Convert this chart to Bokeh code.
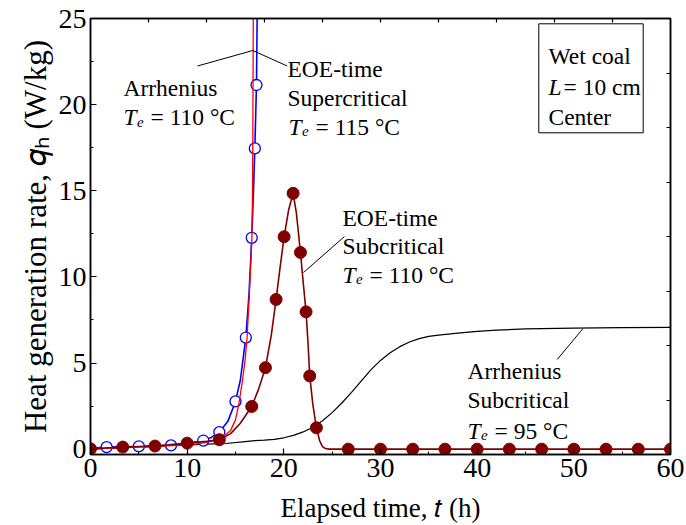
from bokeh.embed import file_html
from bokeh.models import (BoxAnnotation, CustomJSTickFormatter, FixedTicker,
                          Label, LinearAxis, Range1d)
from bokeh.plotting import figure
from bokeh.resources import INLINE

# ---- data: heat generation rate q_h (W/kg) vs elapsed time t (h) ----

# Arrhenius, subcritical, Te = 95 C (black curve)
arr95_t = [0, 2, 5, 8, 10, 12, 14, 16, 17, 18, 19, 20, 21, 22, 23, 24, 25, 26,
           27, 28, 29, 30, 31, 32, 33, 34, 35, 36, 37, 38, 40, 42, 45, 50, 55, 60]
arr95_q = [0.0, 0.05, 0.12, 0.2, 0.25, 0.29, 0.33, 0.44, 0.49, 0.52, 0.57, 0.66,
           0.8, 1.0, 1.27, 1.65, 2.12, 2.68, 3.3, 3.95, 4.6, 5.15, 5.6, 5.95,
           6.22, 6.42, 6.55, 6.62, 6.68, 6.74, 6.84, 6.91, 6.98, 7.03, 7.06, 7.07]

# Arrhenius, Te = 110 C (red curve)
arr110_t = [0, 2, 4, 6, 8, 10, 11, 12, 13, 13.5, 14, 14.5, 15, 15.35, 15.7, 16.0,
            16.2, 16.45, 16.7, 16.76, 16.8, 16.84]
arr110_q = [0.02, 0.06, 0.1, 0.14, 0.19, 0.26, 0.31, 0.4, 0.55, 0.68, 0.85, 1.09,
            1.7, 2.64, 3.9, 5.2, 6.5, 9.2, 12.3, 15.0, 19.0, 25.5]

# EOE-time, supercritical, Te = 115 C (blue curve and open circles)
eoe115_t = [0, 1.67, 5.0, 8.33, 10, 11.67, 12.5, 13.33, 14.2, 15.0, 15.5, 16.07,
            16.4, 16.68, 16.85, 17.0, 17.17, 17.25]
eoe115_q = [0.05, 0.12, 0.16, 0.22, 0.33, 0.5, 0.68, 0.99, 1.6, 2.77, 4.0, 6.48,
            9.0, 12.27, 14.8, 17.46, 21.14, 25.5]
eoe115_mark_t = [1.67, 5.0, 8.33, 11.67, 13.33, 15.0, 16.07, 16.68, 17.0, 17.17]
eoe115_mark_q = [0.12, 0.16, 0.22, 0.5, 0.99, 2.77, 6.48, 12.27, 17.46, 21.14]

# EOE-time, subcritical, Te = 110 C (dark red curve and filled circles)
eoe110_t = [0, 3.33, 6.67, 10, 12, 13.33, 14.5, 15.5, 16.68, 17.4, 18.1, 18.7,
            19.2, 19.6, 20.03, 20.5, 20.96, 21.3, 21.72, 22.0, 22.3, 22.5, 22.68,
            23.0, 23.37, 23.7, 24.0, 24.3, 24.7, 60]
eoe110_q = [0.02, 0.12, 0.18, 0.35, 0.45, 0.55, 0.9, 1.5, 2.48, 3.5, 4.73, 6.6,
            8.69, 10.5, 12.33, 13.9, 14.85, 13.7, 11.42, 9.7, 7.97, 6.2, 4.25,
            2.6, 1.24, 0.5, 0.15, 0.04, 0.0, 0.0]
eoe110_mark_t = [0, 3.33, 6.67, 10, 13.33, 16.68, 18.1, 19.2, 20.03, 20.96, 21.72,
                 22.3, 22.68, 23.37, 26.67, 30, 33.33, 36.67, 40, 43.33, 46.67,
                 50, 53.33, 56.67, 60]
eoe110_mark_q = [0.02, 0.12, 0.18, 0.35, 0.55, 2.48, 4.73, 8.69, 12.33, 14.85,
                 11.42, 7.97, 4.25, 1.24, 0, 0, 0, 0, 0, 0, 0, 0, 0, 0, 0]

# axis ticks
x_major = [0, 10, 20, 30, 40, 50, 60]
x_minor = [5, 15, 25, 35, 45, 55]
y_major = [0, 5, 10, 15, 20, 25]
y_minor = [2.5, 7.5, 12.5, 17.5, 22.5]
top_ticks = [6, 12, 18, 24, 30, 36, 42, 48, 54]
right_ticks = [2.85, 6.01, 9.18, 12.34, 15.5, 18.67, 21.83]

# axis titles (mathematical italic t and q, subscript h)
x_title = "Elapsed time, \U0001D461 (h)"
y_title = "Heat generation rate, \U0001D45E\u2095 (W/kg)"

# ---- layout (pixels) ----
W, H = 686, 525
B_LEFT, B_RIGHT, B_TOP, B_BOTTOM = 90, 16, 18, 71
X0, X1 = 0, 60
Y0, Y1 = -0.31, 25
SX = (W - B_LEFT - B_RIGHT) / (X1 - X0)
SY = (H - B_TOP - B_BOTTOM) / (Y1 - Y0)


def at(px, py):
    """Page pixel position -> data coordinates."""
    return X0 + (px - B_LEFT) / SX, Y1 - (py - B_TOP) / SY


FONT = "Liberation Serif"
ANN = "23.5px"

p = figure(width=W, height=H, x_range=Range1d(X0, X1), y_range=Range1d(Y0, Y1),
           min_border_left=B_LEFT, min_border_right=B_RIGHT,
           min_border_top=B_TOP, min_border_bottom=B_BOTTOM,
           output_backend="svg", toolbar_location=None)
p.grid.visible = False
p.background_fill_color = "white"
p.border_fill_color = "white"
p.outline_line_color = "black"
p.outline_line_width = 1.5


def style_axis(ax, labels=True, major_in=6, minor_in=3):
    ax.axis_line_color = "black"
    ax.axis_line_width = 1.5
    ax.major_tick_in = major_in
    ax.major_tick_out = 0
    ax.minor_tick_in = minor_in
    ax.minor_tick_out = 0
    ax.major_tick_line_width = 1.2
    ax.minor_tick_line_width = 1.0
    ax.major_tick_line_color = "black"
    ax.minor_tick_line_color = "black"
    if labels:
        ax.major_label_text_font = FONT
        ax.major_label_text_font_size = "28px"
        ax.major_label_text_color = "black"
        ax.major_label_standoff = 4
        ax.axis_label_text_font = FONT
        ax.axis_label_text_font_style = "normal"
        ax.axis_label_text_color = "black"
    else:
        ax.formatter = CustomJSTickFormatter(code="return ''")
        ax.major_label_text_font_size = "1px"
        ax.major_label_standoff = 0


xa = p.xaxis[0]
xa.ticker = FixedTicker(ticks=x_major, minor_ticks=x_minor)
style_axis(xa)
xa.axis_label = x_title
xa.axis_label_text_font_size = "27px"
xa.axis_label_standoff = 13

ya = p.yaxis[0]
ya.ticker = FixedTicker(ticks=y_major, minor_ticks=y_minor)
style_axis(ya)
ya.axis_label = y_title
ya.axis_label_text_font_size = "31px"
ya.axis_label_standoff = 3

top_ax = LinearAxis(ticker=FixedTicker(ticks=top_ticks))
style_axis(top_ax, labels=False, major_in=4)
p.add_layout(top_ax, "above")
right_ax = LinearAxis(ticker=FixedTicker(ticks=right_ticks))
style_axis(right_ax, labels=False, major_in=4)
p.add_layout(right_ax, "right")

# ---- curves ----
p.line(arr95_t, arr95_q, line_color="black", line_width=1.2)
p.line(eoe115_t, eoe115_q, line_color="#0000ff", line_width=1.6)
p.scatter(eoe115_mark_t, eoe115_mark_q, marker="circle", size=11,
          line_color="#0000ff", line_width=1.3, fill_color="white")
p.line(arr110_t, arr110_q, line_color="#ff0000", line_width=1.3)
p.line(eoe110_t, eoe110_q, line_color="#800000", line_width=1.6)
p.scatter(eoe110_mark_t, eoe110_mark_q, marker="circle", size=12,
          line_color="#800000", fill_color="#800000")

# ---- leader lines from the labels to their curves ----
leaders = [
    [(197, 65.5), (252.3, 50), (286.7, 65.5)],
    [(303, 272), (344, 236)],
    [(556.7, 359), (582.3, 328.3)],
]
for pts in leaders:
    xy = [at(*q) for q in pts]
    p.line([a for a, _ in xy], [b for _, b in xy], line_color="black", line_width=1.0)


# ---- curve labels ----
def text(px, py, s, size=ANN, style="normal"):
    x, y = at(px, py)
    p.add_layout(Label(x=x, y=y, text=s, text_font=FONT, text_font_size=size,
                       text_font_style=style, text_color="black",
                       text_align="left", text_baseline="alphabetic"))


def te_line(px, py, rest):
    text(px, py, "T", style="italic")
    text(px + 13.5, py + 4.5, "e", size="15px", style="italic")
    text(px + 27, py, rest)


text(123, 87.3, "Arrhenius")
te_line(123, 116.7, "= 110 °C")

text(287, 68, "EOE-time")
text(287, 97, "Supercritical")
te_line(288, 126, "= 115 °C")

text(342, 217, "EOE-time")
text(342, 245, "Subcritical")
te_line(342, 274, "= 110 °C")

text(467, 370, "Arrhenius")
text(467, 399.3, "Subcritical")
te_line(467, 430, "= 95 °C")

# sample information box
bx0, by0 = at(538.3, 132.3)
bx1, by1 = at(642.7, 23.3)
p.add_layout(BoxAnnotation(left=bx0, right=bx1, bottom=by0, top=by1,
                           fill_alpha=0, line_color="black", line_alpha=1.0,
                           line_width=1.0))
text(548, 55, "Wet coal")
text(548, 86.7, "L", style="italic")
text(563, 86.7, "= 10 cm")
text(548, 116.7, "Center")

open("out.html", "w").write(file_html(p, INLINE))
